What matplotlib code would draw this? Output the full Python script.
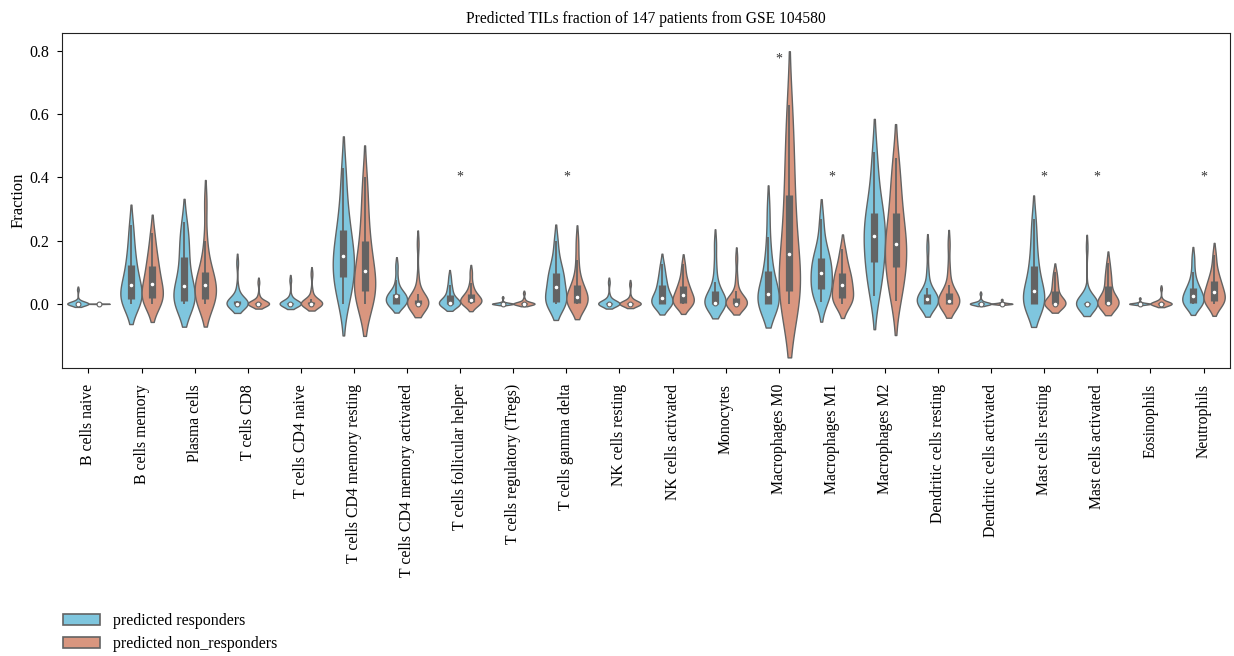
import numpy as np
import pandas as pd
import seaborn as sns
import matplotlib
matplotlib.use("Agg")
import matplotlib.pyplot as plt
from matplotlib.patches import Patch

cell_types = [
    "B cells naive", "B cells memory", "Plasma cells", "T cells CD8",
    "T cells CD4 naive", "T cells CD4 memory resting",
    "T cells CD4 memory activated", "T cells follicular helper",
    "T cells regulatory (Tregs)", "T cells gamma delta", "NK cells resting",
    "NK cells activated", "Monocytes", "Macrophages M0", "Macrophages M1",
    "Macrophages M2", "Dendritic cells resting", "Dendritic cells activated",
    "Mast cells resting", "Mast cells activated", "Eosinophils", "Neutrophils",
]
groups = ["predicted responders", "predicted non_responders"]

# estimated fractions per patient, one row per cell type
responders = [
    [0, 0, 0, 0, 0, 0, 0, 0, 0, 0, 0, 0.002, 0.004, 0.01, 0.045],
    [0, 0.005, 0.01, 0.012, 0.016, 0.03, 0.045, 0.061, 0.07, 0.085, 0.11, 0.134, 0.16, 0.2, 0.25],
    [0, 0.003, 0.006, 0.009, 0.011, 0.025, 0.04, 0.058, 0.075, 0.1, 0.13, 0.164, 0.19, 0.22, 0.26],
    [0, 0, 0, 0, 0, 0, 0, 0, 0, 0.002, 0.005, 0.01, 0.02, 0.05, 0.13],
    [0, 0, 0, 0, 0, 0, 0, 0, 0, 0, 0.001, 0.003, 0.008, 0.025, 0.075],
    [0, 0.03, 0.06, 0.08, 0.09, 0.115, 0.135, 0.15, 0.165, 0.19, 0.22, 0.25, 0.29, 0.35, 0.43],
    [0, 0, 0, 0, 0, 0.005, 0.015, 0.025, 0.027, 0.028, 0.029, 0.031, 0.045, 0.075, 0.12],
    [0, 0, 0, 0, 0, 0, 0.001, 0.002, 0.006, 0.012, 0.022, 0.034, 0.045, 0.06, 0.085],
    [0, 0, 0, 0, 0, 0, 0, 0, 0, 0, 0, 0.001, 0.002, 0.006, 0.02],
    [0, 0, 0.002, 0.004, 0.008, 0.02, 0.04, 0.053, 0.065, 0.08, 0.092, 0.102, 0.12, 0.15, 0.2],
    [0, 0, 0, 0, 0, 0, 0, 0, 0, 0.001, 0.002, 0.004, 0.008, 0.025, 0.068],
    [0, 0, 0, 0, 0.002, 0.007, 0.013, 0.02, 0.03, 0.04, 0.055, 0.065, 0.08, 0.1, 0.125],
    [0, 0, 0, 0, 0, 0, 0.001, 0.003, 0.01, 0.02, 0.035, 0.047, 0.07, 0.12, 0.19],
    [0, 0, 0, 0, 0.001, 0.008, 0.02, 0.032, 0.045, 0.065, 0.09, 0.118, 0.15, 0.21, 0.3],
    [0.005, 0.02, 0.035, 0.045, 0.051, 0.07, 0.088, 0.099, 0.11, 0.125, 0.14, 0.152, 0.17, 0.21, 0.27],
    [0.025, 0.06, 0.09, 0.12, 0.142, 0.17, 0.195, 0.216, 0.235, 0.255, 0.275, 0.303, 0.34, 0.4, 0.48],
    [0, 0, 0, 0, 0.001, 0.005, 0.01, 0.015, 0.02, 0.025, 0.029, 0.035, 0.05, 0.1, 0.18],
    [0, 0, 0, 0, 0, 0, 0, 0, 0, 0, 0.001, 0.002, 0.004, 0.012, 0.032],
    [0, 0, 0, 0, 0.001, 0.01, 0.025, 0.042, 0.06, 0.08, 0.105, 0.135, 0.17, 0.22, 0.27],
    [0, 0, 0, 0, 0, 0, 0, 0, 0, 0, 0.001, 0.002, 0.006, 0.03, 0.18],
    [0, 0, 0, 0, 0, 0, 0, 0, 0, 0, 0, 0.001, 0.002, 0.006, 0.017],
    [0, 0, 0, 0.001, 0.003, 0.01, 0.018, 0.025, 0.032, 0.04, 0.047, 0.053, 0.07, 0.1, 0.145],
]
non_responders = [
    [0, 0, 0, 0, 0, 0, 0, 0, 0, 0, 0, 0, 0.001, 0.001, 0.002],
    [0, 0.006, 0.012, 0.016, 0.02, 0.035, 0.05, 0.064, 0.075, 0.09, 0.11, 0.13, 0.15, 0.18, 0.225],
    [0, 0.005, 0.01, 0.013, 0.017, 0.035, 0.05, 0.06, 0.068, 0.08, 0.095, 0.105, 0.14, 0.2, 0.32],
    [0, 0, 0, 0, 0, 0, 0, 0, 0, 0, 0.001, 0.003, 0.008, 0.025, 0.068],
    [0, 0, 0, 0, 0, 0, 0, 0, 0, 0.002, 0.004, 0.008, 0.015, 0.04, 0.095],
    [0, 0.012, 0.025, 0.035, 0.045, 0.06, 0.08, 0.105, 0.12, 0.15, 0.18, 0.22, 0.27, 0.33, 0.4],
    [0, 0, 0, 0, 0, 0, 0, 0, 0.002, 0.005, 0.01, 0.016, 0.03, 0.08, 0.19],
    [0, 0, 0.002, 0.004, 0.006, 0.009, 0.011, 0.013, 0.017, 0.022, 0.028, 0.034, 0.045, 0.065, 0.1],
    [0, 0, 0, 0, 0, 0, 0, 0, 0, 0, 0.001, 0.003, 0.006, 0.015, 0.034],
    [0, 0, 0, 0.002, 0.005, 0.01, 0.016, 0.023, 0.03, 0.04, 0.055, 0.065, 0.09, 0.14, 0.2],
    [0, 0, 0, 0, 0, 0, 0, 0, 0, 0.001, 0.002, 0.003, 0.006, 0.02, 0.062],
    [0, 0, 0.001, 0.002, 0.003, 0.01, 0.018, 0.027, 0.033, 0.04, 0.05, 0.06, 0.072, 0.095, 0.125],
    [0, 0, 0, 0, 0, 0, 0, 0, 0.003, 0.008, 0.015, 0.021, 0.04, 0.08, 0.145],
    [0, 0.01, 0.025, 0.037, 0.047, 0.07, 0.11, 0.158, 0.2, 0.25, 0.31, 0.38, 0.45, 0.53, 0.63],
    [0, 0.004, 0.01, 0.015, 0.019, 0.035, 0.048, 0.059, 0.068, 0.08, 0.092, 0.102, 0.12, 0.145, 0.175],
    [0.01, 0.045, 0.075, 0.105, 0.127, 0.15, 0.17, 0.189, 0.21, 0.235, 0.265, 0.309, 0.35, 0.4, 0.46],
    [0, 0, 0, 0, 0.001, 0.003, 0.006, 0.01, 0.015, 0.022, 0.03, 0.038, 0.06, 0.11, 0.19],
    [0, 0, 0, 0, 0, 0, 0, 0, 0, 0, 0.001, 0.002, 0.003, 0.006, 0.013],
    [0, 0, 0, 0, 0, 0, 0, 0, 0.005, 0.015, 0.033, 0.049, 0.06, 0.08, 0.1],
    [0, 0, 0, 0, 0, 0, 0.001, 0.004, 0.01, 0.025, 0.045, 0.065, 0.08, 0.1, 0.13],
    [0, 0, 0, 0, 0, 0, 0, 0, 0, 0, 0.001, 0.002, 0.005, 0.015, 0.048],
    [0, 0.002, 0.005, 0.008, 0.012, 0.02, 0.03, 0.037, 0.045, 0.055, 0.066, 0.076, 0.09, 0.115, 0.155],
]

# significant differences marked with a star
star_cells = ["T cells follicular helper", "T cells gamma delta", "Macrophages M0",
              "Macrophages M1", "Mast cells resting", "Mast cells activated", "Neutrophils"]
star_levels = [0.4, 0.4, 0.775, 0.4, 0.4, 0.4, 0.4]

colors = ["#7fc6de", "#d9967f"]
gray = "#636363"

rows = []
for g, table in zip(groups, [responders, non_responders]):
    for cell, vals in zip(cell_types, table):
        for v in vals:
            rows.append((cell, g, v))
df = pd.DataFrame(rows, columns=["cell", "group", "fraction"])

plt.rcParams["font.family"] = ["Liberation Serif", "DejaVu Serif"]
plt.rcParams["font.size"] = 11.3

fig, ax = plt.subplots(figsize=(12.34, 6.56), dpi=100)
fig.subplots_adjust(left=0.0502, right=0.9968, top=0.9497, bottom=0.439)

sns.violinplot(data=df, x="cell", y="fraction", hue="group", order=cell_types,
               hue_order=groups, palette=colors, saturation=1, inner=None,
               density_norm="width", bw_adjust=0.95, cut=1.5, linewidth=1.0,
               linecolor=gray, legend=False, ax=ax)

# inner box: IQR bar, whiskers and median dot
for k, table in enumerate([responders, non_responders]):
    off = -0.2 if k == 0 else 0.2
    for i, vals in enumerate(table):
        v = np.array(vals)
        q1, med, q3 = np.percentile(v, [25, 50, 75])
        iqr = q3 - q1
        lo = v[v >= q1 - 1.5 * iqr].min()
        hi = v[v <= q3 + 1.5 * iqr].max()
        x = i + off
        ax.plot([x, x], [lo, hi], color=gray, lw=1.3, solid_capstyle="butt", zorder=3)
        ax.plot([x, x], [q1, q3], color=gray, lw=5.2, solid_capstyle="butt", zorder=3)
        ax.scatter([x], [med], s=12, color="white", edgecolor=gray, linewidth=0.8, zorder=4)

for cell, lvl in zip(star_cells, star_levels):
    ax.text(cell_types.index(cell), lvl, "*", ha="center", va="center", fontsize=10, color="#333333")

ax.set_xlim(-0.5, len(cell_types) - 0.5)
ax.set_ylim(-0.203, 0.857)
ax.set_yticks([0.0, 0.2, 0.4, 0.6, 0.8])
ax.set_xticks(range(len(cell_types)))
ax.set_xticklabels(cell_types, rotation=90)
ax.tick_params(axis="x", pad=8)
ax.tick_params(axis="y", pad=5.5, labelsize=11.5)
ax.set_xlabel("")
ax.set_ylabel("Fraction", fontsize=12, labelpad=2.5)
ax.set_title("Predicted TILs fraction of 147 patients from GSE 104580", fontsize=11.2, pad=7)
for s in ax.spines.values():
    s.set_color("#222222")

handles = [Patch(facecolor=c, edgecolor=gray, linewidth=1.2, label=g) for c, g in zip(colors, groups)]
fig.legend(handles=handles, loc="upper left", bbox_to_anchor=(63 / 1234, 1 - 613 / 656),
           frameon=False, borderpad=0, borderaxespad=0, fontsize=11.5, handlelength=2.3,
           handleheight=0.65, handletextpad=0.8, labelspacing=0.45)

fig.savefig("out.png", dpi=100)
